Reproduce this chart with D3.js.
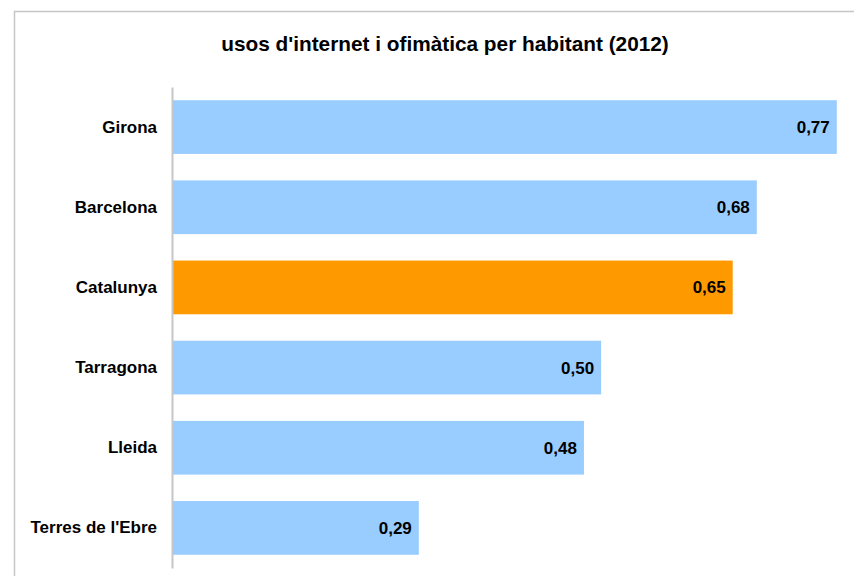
<!DOCTYPE html>
<html>
<head>
<meta charset="utf-8">
<script src="https://cdn.jsdelivr.net/npm/d3@7"></script>
<style>
html,body{margin:0;padding:0;background:#fff;}
svg{display:block;}
text{font-family:"Liberation Sans",Arial,sans-serif;font-weight:bold;fill:#000;}
</style>
</head>
<body>
<svg id="chart" width="854" height="576"></svg>
<script>
const titleText = "usos d'internet i ofimàtica per habitant (2012)";
const categories = ["Girona", "Barcelona", "Catalunya", "Tarragona", "Lleida", "Terres de l'Ebre"];
const values = [0.773, 0.680, 0.652, 0.499, 0.479, 0.287];
const highlight = ["Catalunya"];

const svg = d3.select("#chart");
const W = 854, H = 576;

// outer border
svg.append("rect").attr("x", 14.5).attr("y", 11.5).attr("width", W).attr("height", H)
  .attr("fill", "#fff").attr("stroke", "#c6c6c6").attr("stroke-width", 1.5);

svg.append("text").attr("x", 445).attr("y", 51).attr("text-anchor", "middle")
  .style("font-size", "20.8px").text(titleText);

const x = d3.scaleLinear().domain([0, 0.8]).range([172, 860]);
const y = d3.scaleBand().domain(categories).range([87, 568]).paddingInner(0.33).paddingOuter(0.165);

svg.selectAll("rect.bar").data(categories).join("rect").attr("class", "bar")
  .attr("x", x(0)).attr("y", d => y(d))
  .attr("width", (d, i) => x(values[i]) - x(0)).attr("height", y.bandwidth())
  .attr("fill", d => highlight.includes(d) ? "#FF9900" : "#99CCFF");

const fmt = v => d3.format(".2f")(v).replace(".", ",");
svg.selectAll("text.val").data(categories).join("text").attr("class", "val")
  .attr("x", (d, i) => x(values[i]) - 7).attr("y", d => y(d) + y.bandwidth() / 2)
  .attr("dy", "0.35em").attr("text-anchor", "end").style("font-size", "17px")
  .text((d, i) => fmt(values[i]));

const yAxis = d3.axisLeft(y).tickSize(0).tickPadding(15);
const g = svg.append("g").attr("transform", `translate(${x(0)},0)`).call(yAxis);
g.select(".domain").attr("stroke", "#c6c6c6").attr("stroke-width", 2);
g.selectAll(".tick text").style("font-size", "17px")
  .style("font-family", "'Liberation Sans',Arial,sans-serif").style("font-weight", "bold").attr("fill", "#000");
</script>
</body>
</html>
